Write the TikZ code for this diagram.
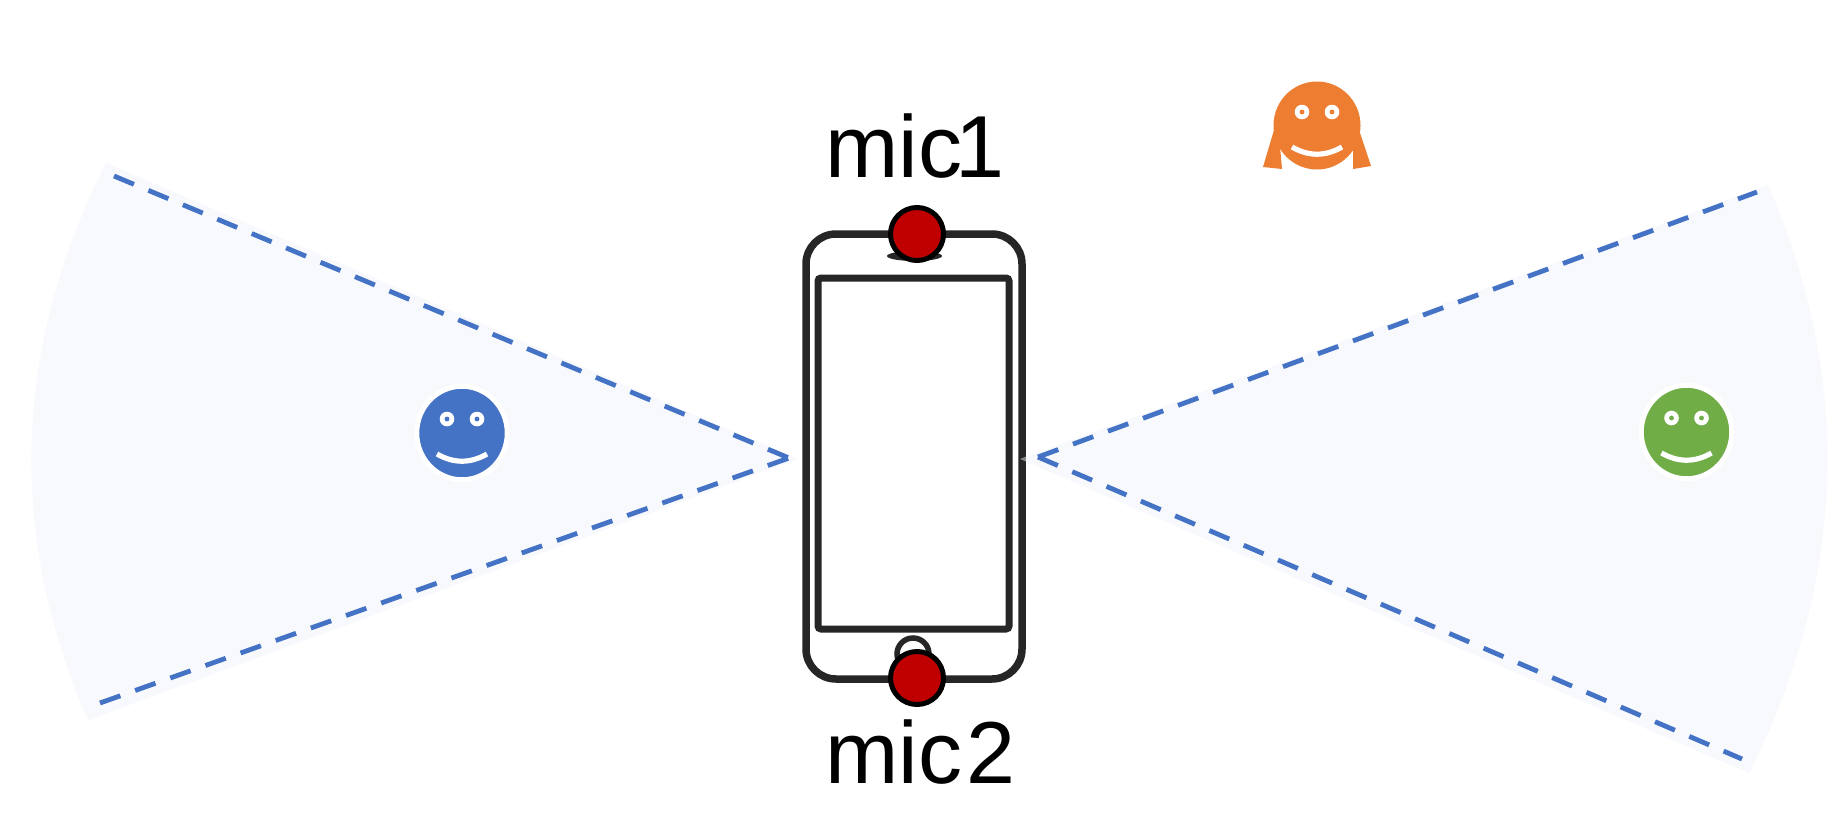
\documentclass[tikz,border=0pt]{standalone}
\usepackage{fontspec}
\usetikzlibrary{shapes.geometric}
\setmainfont{Liberation Sans}
\definecolor{fanblue}{HTML}{4472C4}
\definecolor{fanfill}{HTML}{F7F9FD}
\definecolor{facegreen}{HTML}{70AD47}
\definecolor{faceorange}{HTML}{ED7D31}
\definecolor{micred}{HTML}{C00000}
\definecolor{phonedark}{HTML}{262626}
\tikzset{
  fanline/.style={draw=fanblue,line width=4.8pt,dash pattern=on 21.6pt off 15.7pt},
  phoneline/.style={draw=phonedark,line width=7.5pt},
  screenline/.style={draw=phonedark,line width=7pt,rounded corners=3pt},
  micdot/.style={circle,fill=micred,draw=black,line width=5pt,minimum size=53pt,inner sep=0pt},
  miclabel/.style={anchor=base west,inner sep=0pt,font=\fontsize{88pt}{88pt}\selectfont},
  facering/.style={ellipse,fill=#1,draw=white,line width=5pt,minimum width=90.5pt,minimum height=93.5pt,inner sep=0pt,outer sep=0pt},
}
\newcommand{\facefeatures}[2]{%
  \begin{scope}[shift={(#1)}]
    \fill[white] (-15,-14) circle[radius=7.3pt] (15,-14) circle[radius=7.3pt];
    \fill[#2] (-15,-14) circle[radius=2.4pt] (15,-14) circle[radius=2.4pt];
    \draw[white,line width=5.2pt] (-25,21) .. controls (-8.3,30.6) and (8.3,30.6) .. (25,21);
  \end{scope}}
\begin{document}
\begin{tikzpicture}[x=1pt,y=-1pt]
\useasboundingbox (0,0) rectangle (1845,839);
\fill[white] (0,0) rectangle (1845,839);
% fans
\coordinate (lapex) at (798,459);
\coordinate (rapex) at (1020,459);
\coordinate (ltop) at (106,163);
\coordinate (lbot) at (88,720);
\coordinate (rtop) at (1768,185);
\coordinate (rbot) at (1749,773);
\fill[fanfill] (lapex) -- (ltop) .. controls (13,348) and (7,534) .. (lbot) -- cycle;
\fill[fanfill] (rapex) -- (rtop) .. controls (1853,381) and (1847,577) .. (rbot) -- cycle;
% phone
\draw[phoneline,rounded corners=30pt] (806,234) rectangle (1022,679);
\draw[screenline] (818,278) rectangle (1009,629);
\fill[phonedark] (914.5,256) ellipse[x radius=27.5pt,y radius=5pt];
\draw[phonedark,line width=5.5pt] (913,654) circle[radius=16pt];
% fan tip over the phone edge
\fill[white,opacity=.45] (1020,459) -- (1026,456.5) -- (1026,461.5) -- cycle;
% fan edges
\coordinate (ltopd) at (114,176);
\coordinate (lbotd) at (100,703);
\coordinate (ltip) at (789,458);
\coordinate (rtip) at (1038,457);
\coordinate (rtopd) at (1757,192);
\coordinate (rbotd) at (1742,759);
\draw[fanline] (ltopd) -- (ltip);
\draw[fanline] (lbotd) -- (ltip);
\draw[fanline] (rtip) -- (rtopd);
\draw[fanline] (rtip) -- (rbotd);
% mics
\node[micdot] (mic1) at (917,234) {};
\node[micdot] (mic2) at (917,678) {};
\node[miclabel] (lab1) at (825,177) {mic\kern-7pt 1};
\node[miclabel] (lab2) at (825,783) {mic\kern4pt 2};
% faces
\node[facering=fanblue] (bluef) at (462,433) {};
\facefeatures{462,433}{fanblue}
\node[facering=facegreen] (greenf) at (1686.5,432) {};
\facefeatures{1686.5,432}{facegreen}
\fill[faceorange] (1274,130) -- (1263,167) -- (1282,169) -- (1280,146) -- cycle;
\fill[faceorange] (1359,130) -- (1371,166) -- (1353,169) -- (1353,146) -- cycle;
\fill[faceorange] (1317,125.5) ellipse[x radius=43.5pt,y radius=44pt];
\facefeatures{1317,126}{faceorange}
\end{tikzpicture}
\end{document}
